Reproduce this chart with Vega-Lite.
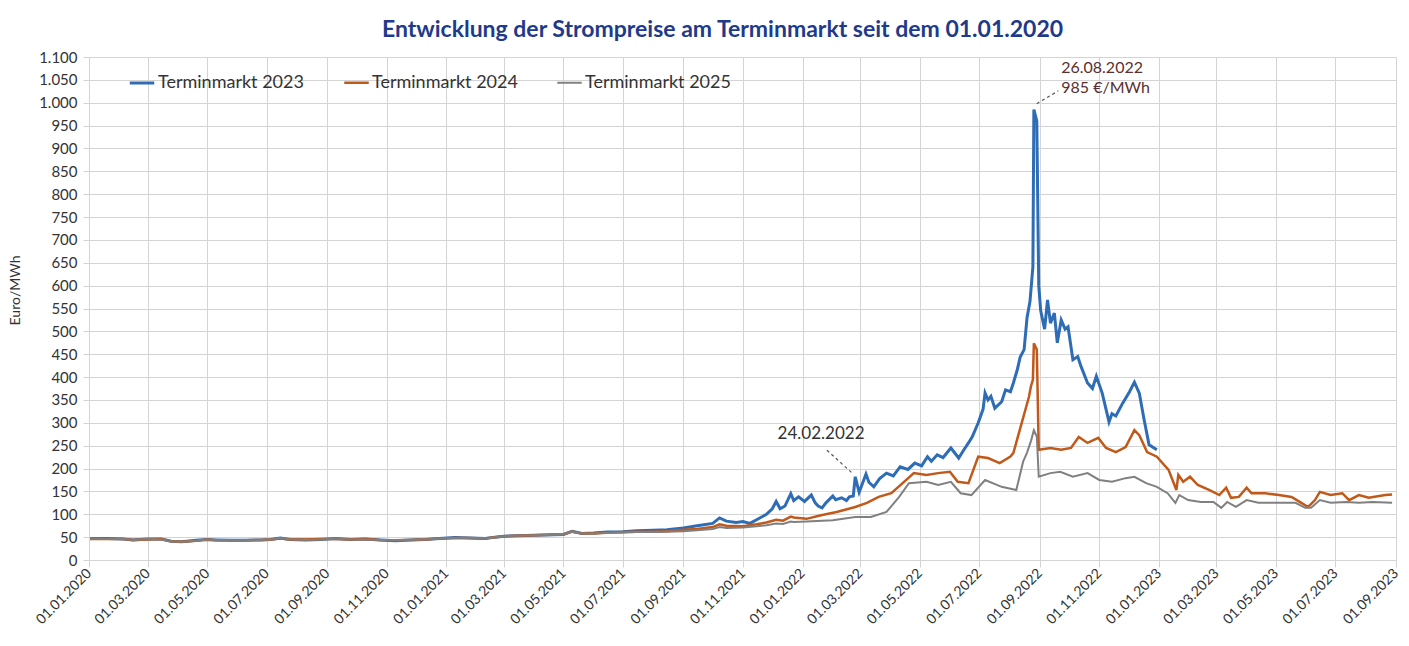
{
  "$schema": "https://vega.github.io/schema/vega-lite/v6.json",
  "width": 1307,
  "height": 503,
  "autosize": "none",
  "padding": {"left": 89, "top": 57, "right": 13, "bottom": 86},
  "background": "white",
  "title": {
    "text": "Entwicklung der Strompreise am Terminmarkt seit dem 01.01.2020",
    "font": "Lato",
    "fontSize": 23,
    "fontWeight": "bold",
    "color": "#1F3A8A",
    "anchor": "middle",
    "dx": -20,
    "offset": 8
  },
  "config": {
    "font": "Lato",
    "view": {"stroke": null},
    "axis": {
      "gridColor": "#d4d4d4",
      "gridWidth": 1,
      "tickColor": "#d4d4d4",
      "domain": false,
      "labelColor": "#333333",
      "titleColor": "#333333",
      "labelFont": "Lato",
      "titleFont": "Lato"
    }
  },
  "datasets": {
    "prices": [
      {"date":"2020-01-02","series":"Terminmarkt 2023","price":47},
      {"date":"2020-01-20","series":"Terminmarkt 2023","price":47},
      {"date":"2020-02-05","series":"Terminmarkt 2023","price":46},
      {"date":"2020-02-15","series":"Terminmarkt 2023","price":44},
      {"date":"2020-03-01","series":"Terminmarkt 2023","price":46},
      {"date":"2020-03-15","series":"Terminmarkt 2023","price":46},
      {"date":"2020-03-25","series":"Terminmarkt 2023","price":41},
      {"date":"2020-04-05","series":"Terminmarkt 2023","price":40},
      {"date":"2020-04-20","series":"Terminmarkt 2023","price":43},
      {"date":"2020-05-01","series":"Terminmarkt 2023","price":45},
      {"date":"2020-05-10","series":"Terminmarkt 2023","price":44},
      {"date":"2020-05-25","series":"Terminmarkt 2023","price":43},
      {"date":"2020-06-10","series":"Terminmarkt 2023","price":43},
      {"date":"2020-06-25","series":"Terminmarkt 2023","price":44},
      {"date":"2020-07-05","series":"Terminmarkt 2023","price":45},
      {"date":"2020-07-15","series":"Terminmarkt 2023","price":48},
      {"date":"2020-07-25","series":"Terminmarkt 2023","price":45},
      {"date":"2020-08-10","series":"Terminmarkt 2023","price":44},
      {"date":"2020-08-25","series":"Terminmarkt 2023","price":45},
      {"date":"2020-09-10","series":"Terminmarkt 2023","price":47},
      {"date":"2020-09-25","series":"Terminmarkt 2023","price":45},
      {"date":"2020-10-10","series":"Terminmarkt 2023","price":46},
      {"date":"2020-10-25","series":"Terminmarkt 2023","price":44},
      {"date":"2020-11-10","series":"Terminmarkt 2023","price":42},
      {"date":"2020-11-25","series":"Terminmarkt 2023","price":44},
      {"date":"2020-12-10","series":"Terminmarkt 2023","price":45},
      {"date":"2020-12-25","series":"Terminmarkt 2023","price":47},
      {"date":"2021-01-10","series":"Terminmarkt 2023","price":49},
      {"date":"2021-01-25","series":"Terminmarkt 2023","price":48},
      {"date":"2021-02-10","series":"Terminmarkt 2023","price":47},
      {"date":"2021-02-20","series":"Terminmarkt 2023","price":50},
      {"date":"2021-03-01","series":"Terminmarkt 2023","price":52},
      {"date":"2021-03-15","series":"Terminmarkt 2023","price":53},
      {"date":"2021-04-01","series":"Terminmarkt 2023","price":54},
      {"date":"2021-04-20","series":"Terminmarkt 2023","price":55},
      {"date":"2021-05-01","series":"Terminmarkt 2023","price":56},
      {"date":"2021-05-10","series":"Terminmarkt 2023","price":63},
      {"date":"2021-05-20","series":"Terminmarkt 2023","price":58},
      {"date":"2021-06-01","series":"Terminmarkt 2023","price":59},
      {"date":"2021-06-15","series":"Terminmarkt 2023","price":61},
      {"date":"2021-07-01","series":"Terminmarkt 2023","price":62},
      {"date":"2021-07-15","series":"Terminmarkt 2023","price":64},
      {"date":"2021-08-01","series":"Terminmarkt 2023","price":65},
      {"date":"2021-08-15","series":"Terminmarkt 2023","price":66},
      {"date":"2021-09-01","series":"Terminmarkt 2023","price":70},
      {"date":"2021-09-15","series":"Terminmarkt 2023","price":75},
      {"date":"2021-10-01","series":"Terminmarkt 2023","price":80},
      {"date":"2021-10-08","series":"Terminmarkt 2023","price":92},
      {"date":"2021-10-15","series":"Terminmarkt 2023","price":85},
      {"date":"2021-10-25","series":"Terminmarkt 2023","price":82},
      {"date":"2021-11-01","series":"Terminmarkt 2023","price":84},
      {"date":"2021-11-08","series":"Terminmarkt 2023","price":80},
      {"date":"2021-11-15","series":"Terminmarkt 2023","price":88},
      {"date":"2021-11-25","series":"Terminmarkt 2023","price":100},
      {"date":"2021-12-01","series":"Terminmarkt 2023","price":112},
      {"date":"2021-12-05","series":"Terminmarkt 2023","price":128},
      {"date":"2021-12-09","series":"Terminmarkt 2023","price":112},
      {"date":"2021-12-14","series":"Terminmarkt 2023","price":118},
      {"date":"2021-12-20","series":"Terminmarkt 2023","price":145},
      {"date":"2021-12-23","series":"Terminmarkt 2023","price":130},
      {"date":"2021-12-28","series":"Terminmarkt 2023","price":138},
      {"date":"2022-01-03","series":"Terminmarkt 2023","price":128},
      {"date":"2022-01-10","series":"Terminmarkt 2023","price":142},
      {"date":"2022-01-14","series":"Terminmarkt 2023","price":125},
      {"date":"2022-01-17","series":"Terminmarkt 2023","price":118},
      {"date":"2022-01-21","series":"Terminmarkt 2023","price":114},
      {"date":"2022-01-25","series":"Terminmarkt 2023","price":125},
      {"date":"2022-02-01","series":"Terminmarkt 2023","price":140},
      {"date":"2022-02-04","series":"Terminmarkt 2023","price":132},
      {"date":"2022-02-10","series":"Terminmarkt 2023","price":136},
      {"date":"2022-02-15","series":"Terminmarkt 2023","price":130},
      {"date":"2022-02-18","series":"Terminmarkt 2023","price":138},
      {"date":"2022-02-22","series":"Terminmarkt 2023","price":140},
      {"date":"2022-02-24","series":"Terminmarkt 2023","price":182},
      {"date":"2022-02-28","series":"Terminmarkt 2023","price":148},
      {"date":"2022-03-03","series":"Terminmarkt 2023","price":165},
      {"date":"2022-03-07","series":"Terminmarkt 2023","price":188},
      {"date":"2022-03-10","series":"Terminmarkt 2023","price":170},
      {"date":"2022-03-15","series":"Terminmarkt 2023","price":160},
      {"date":"2022-03-21","series":"Terminmarkt 2023","price":178},
      {"date":"2022-03-28","series":"Terminmarkt 2023","price":190},
      {"date":"2022-04-04","series":"Terminmarkt 2023","price":184},
      {"date":"2022-04-11","series":"Terminmarkt 2023","price":204},
      {"date":"2022-04-19","series":"Terminmarkt 2023","price":198},
      {"date":"2022-04-26","series":"Terminmarkt 2023","price":212},
      {"date":"2022-05-03","series":"Terminmarkt 2023","price":206},
      {"date":"2022-05-09","series":"Terminmarkt 2023","price":226},
      {"date":"2022-05-13","series":"Terminmarkt 2023","price":216},
      {"date":"2022-05-19","series":"Terminmarkt 2023","price":230},
      {"date":"2022-05-25","series":"Terminmarkt 2023","price":224},
      {"date":"2022-06-02","series":"Terminmarkt 2023","price":245},
      {"date":"2022-06-10","series":"Terminmarkt 2023","price":223},
      {"date":"2022-06-15","series":"Terminmarkt 2023","price":240},
      {"date":"2022-06-20","series":"Terminmarkt 2023","price":256},
      {"date":"2022-06-24","series":"Terminmarkt 2023","price":270},
      {"date":"2022-06-30","series":"Terminmarkt 2023","price":300},
      {"date":"2022-07-05","series":"Terminmarkt 2023","price":330},
      {"date":"2022-07-07","series":"Terminmarkt 2023","price":365},
      {"date":"2022-07-10","series":"Terminmarkt 2023","price":350},
      {"date":"2022-07-13","series":"Terminmarkt 2023","price":358},
      {"date":"2022-07-17","series":"Terminmarkt 2023","price":332},
      {"date":"2022-07-24","series":"Terminmarkt 2023","price":346},
      {"date":"2022-07-28","series":"Terminmarkt 2023","price":372},
      {"date":"2022-08-02","series":"Terminmarkt 2023","price":368},
      {"date":"2022-08-05","series":"Terminmarkt 2023","price":387},
      {"date":"2022-08-09","series":"Terminmarkt 2023","price":416},
      {"date":"2022-08-12","series":"Terminmarkt 2023","price":444},
      {"date":"2022-08-16","series":"Terminmarkt 2023","price":460},
      {"date":"2022-08-19","series":"Terminmarkt 2023","price":530},
      {"date":"2022-08-22","series":"Terminmarkt 2023","price":565},
      {"date":"2022-08-25","series":"Terminmarkt 2023","price":641},
      {"date":"2022-08-26","series":"Terminmarkt 2023","price":985},
      {"date":"2022-08-29","series":"Terminmarkt 2023","price":960},
      {"date":"2022-08-31","series":"Terminmarkt 2023","price":600},
      {"date":"2022-09-02","series":"Terminmarkt 2023","price":545},
      {"date":"2022-09-06","series":"Terminmarkt 2023","price":505},
      {"date":"2022-09-09","series":"Terminmarkt 2023","price":569},
      {"date":"2022-09-12","series":"Terminmarkt 2023","price":518},
      {"date":"2022-09-16","series":"Terminmarkt 2023","price":540},
      {"date":"2022-09-19","series":"Terminmarkt 2023","price":475},
      {"date":"2022-09-23","series":"Terminmarkt 2023","price":525},
      {"date":"2022-09-27","series":"Terminmarkt 2023","price":505},
      {"date":"2022-09-30","series":"Terminmarkt 2023","price":510},
      {"date":"2022-10-05","series":"Terminmarkt 2023","price":438},
      {"date":"2022-10-10","series":"Terminmarkt 2023","price":445},
      {"date":"2022-10-13","series":"Terminmarkt 2023","price":425},
      {"date":"2022-10-20","series":"Terminmarkt 2023","price":387},
      {"date":"2022-10-25","series":"Terminmarkt 2023","price":375},
      {"date":"2022-10-29","series":"Terminmarkt 2023","price":402},
      {"date":"2022-11-04","series":"Terminmarkt 2023","price":365},
      {"date":"2022-11-11","series":"Terminmarkt 2023","price":302},
      {"date":"2022-11-14","series":"Terminmarkt 2023","price":320},
      {"date":"2022-11-18","series":"Terminmarkt 2023","price":315},
      {"date":"2022-11-25","series":"Terminmarkt 2023","price":343},
      {"date":"2022-12-02","series":"Terminmarkt 2023","price":368},
      {"date":"2022-12-07","series":"Terminmarkt 2023","price":389},
      {"date":"2022-12-12","series":"Terminmarkt 2023","price":365},
      {"date":"2022-12-17","series":"Terminmarkt 2023","price":306},
      {"date":"2022-12-22","series":"Terminmarkt 2023","price":252},
      {"date":"2022-12-30","series":"Terminmarkt 2023","price":241},

      {"date":"2020-01-02","series":"Terminmarkt 2024","price":46},
      {"date":"2020-01-20","series":"Terminmarkt 2024","price":46},
      {"date":"2020-02-05","series":"Terminmarkt 2024","price":46},
      {"date":"2020-02-15","series":"Terminmarkt 2024","price":44},
      {"date":"2020-03-01","series":"Terminmarkt 2024","price":45},
      {"date":"2020-03-15","series":"Terminmarkt 2024","price":46},
      {"date":"2020-03-25","series":"Terminmarkt 2024","price":41},
      {"date":"2020-04-05","series":"Terminmarkt 2024","price":40},
      {"date":"2020-04-20","series":"Terminmarkt 2024","price":42},
      {"date":"2020-05-01","series":"Terminmarkt 2024","price":45},
      {"date":"2020-05-10","series":"Terminmarkt 2024","price":43},
      {"date":"2020-05-25","series":"Terminmarkt 2024","price":43},
      {"date":"2020-06-10","series":"Terminmarkt 2024","price":43},
      {"date":"2020-06-25","series":"Terminmarkt 2024","price":44},
      {"date":"2020-07-05","series":"Terminmarkt 2024","price":45},
      {"date":"2020-07-15","series":"Terminmarkt 2024","price":47},
      {"date":"2020-07-25","series":"Terminmarkt 2024","price":45},
      {"date":"2020-08-10","series":"Terminmarkt 2024","price":45},
      {"date":"2020-08-25","series":"Terminmarkt 2024","price":46},
      {"date":"2020-09-10","series":"Terminmarkt 2024","price":46},
      {"date":"2020-09-25","series":"Terminmarkt 2024","price":45},
      {"date":"2020-10-10","series":"Terminmarkt 2024","price":46},
      {"date":"2020-10-25","series":"Terminmarkt 2024","price":44},
      {"date":"2020-11-10","series":"Terminmarkt 2024","price":43},
      {"date":"2020-11-25","series":"Terminmarkt 2024","price":44},
      {"date":"2020-12-10","series":"Terminmarkt 2024","price":45},
      {"date":"2020-12-25","series":"Terminmarkt 2024","price":47},
      {"date":"2021-01-10","series":"Terminmarkt 2024","price":48},
      {"date":"2021-01-25","series":"Terminmarkt 2024","price":48},
      {"date":"2021-02-10","series":"Terminmarkt 2024","price":47},
      {"date":"2021-02-20","series":"Terminmarkt 2024","price":50},
      {"date":"2021-03-01","series":"Terminmarkt 2024","price":52},
      {"date":"2021-03-15","series":"Terminmarkt 2024","price":53},
      {"date":"2021-04-01","series":"Terminmarkt 2024","price":54},
      {"date":"2021-04-20","series":"Terminmarkt 2024","price":55},
      {"date":"2021-05-01","series":"Terminmarkt 2024","price":56},
      {"date":"2021-05-10","series":"Terminmarkt 2024","price":62},
      {"date":"2021-05-20","series":"Terminmarkt 2024","price":58},
      {"date":"2021-06-01","series":"Terminmarkt 2024","price":58},
      {"date":"2021-06-15","series":"Terminmarkt 2024","price":60},
      {"date":"2021-07-01","series":"Terminmarkt 2024","price":61},
      {"date":"2021-07-15","series":"Terminmarkt 2024","price":62},
      {"date":"2021-08-01","series":"Terminmarkt 2024","price":62},
      {"date":"2021-08-15","series":"Terminmarkt 2024","price":63},
      {"date":"2021-09-01","series":"Terminmarkt 2024","price":66},
      {"date":"2021-09-15","series":"Terminmarkt 2024","price":68},
      {"date":"2021-10-01","series":"Terminmarkt 2024","price":72},
      {"date":"2021-10-08","series":"Terminmarkt 2024","price":78},
      {"date":"2021-10-15","series":"Terminmarkt 2024","price":75},
      {"date":"2021-11-01","series":"Terminmarkt 2024","price":74},
      {"date":"2021-11-15","series":"Terminmarkt 2024","price":78},
      {"date":"2021-11-25","series":"Terminmarkt 2024","price":82},
      {"date":"2021-12-05","series":"Terminmarkt 2024","price":88},
      {"date":"2021-12-12","series":"Terminmarkt 2024","price":86},
      {"date":"2021-12-20","series":"Terminmarkt 2024","price":95},
      {"date":"2021-12-23","series":"Terminmarkt 2024","price":93},
      {"date":"2022-01-05","series":"Terminmarkt 2024","price":90},
      {"date":"2022-01-20","series":"Terminmarkt 2024","price":98},
      {"date":"2022-02-05","series":"Terminmarkt 2024","price":105},
      {"date":"2022-02-24","series":"Terminmarkt 2024","price":116},
      {"date":"2022-03-08","series":"Terminmarkt 2024","price":125},
      {"date":"2022-03-20","series":"Terminmarkt 2024","price":138},
      {"date":"2022-04-02","series":"Terminmarkt 2024","price":146},
      {"date":"2022-04-15","series":"Terminmarkt 2024","price":171},
      {"date":"2022-04-25","series":"Terminmarkt 2024","price":190},
      {"date":"2022-05-08","series":"Terminmarkt 2024","price":186},
      {"date":"2022-05-20","series":"Terminmarkt 2024","price":190},
      {"date":"2022-06-01","series":"Terminmarkt 2024","price":193},
      {"date":"2022-06-09","series":"Terminmarkt 2024","price":171},
      {"date":"2022-06-20","series":"Terminmarkt 2024","price":168},
      {"date":"2022-06-30","series":"Terminmarkt 2024","price":226},
      {"date":"2022-07-10","series":"Terminmarkt 2024","price":223},
      {"date":"2022-07-22","series":"Terminmarkt 2024","price":212},
      {"date":"2022-08-02","series":"Terminmarkt 2024","price":226},
      {"date":"2022-08-05","series":"Terminmarkt 2024","price":234},
      {"date":"2022-08-12","series":"Terminmarkt 2024","price":288},
      {"date":"2022-08-21","series":"Terminmarkt 2024","price":357},
      {"date":"2022-08-23","series":"Terminmarkt 2024","price":380},
      {"date":"2022-08-25","series":"Terminmarkt 2024","price":394},
      {"date":"2022-08-26","series":"Terminmarkt 2024","price":474},
      {"date":"2022-08-29","series":"Terminmarkt 2024","price":460},
      {"date":"2022-08-31","series":"Terminmarkt 2024","price":241},
      {"date":"2022-09-12","series":"Terminmarkt 2024","price":245},
      {"date":"2022-09-23","series":"Terminmarkt 2024","price":241},
      {"date":"2022-10-03","series":"Terminmarkt 2024","price":245},
      {"date":"2022-10-11","series":"Terminmarkt 2024","price":269},
      {"date":"2022-10-20","series":"Terminmarkt 2024","price":256},
      {"date":"2022-10-31","series":"Terminmarkt 2024","price":267},
      {"date":"2022-11-08","series":"Terminmarkt 2024","price":245},
      {"date":"2022-11-18","series":"Terminmarkt 2024","price":236},
      {"date":"2022-11-28","series":"Terminmarkt 2024","price":247},
      {"date":"2022-12-07","series":"Terminmarkt 2024","price":284},
      {"date":"2022-12-12","series":"Terminmarkt 2024","price":273},
      {"date":"2022-12-20","series":"Terminmarkt 2024","price":236},
      {"date":"2022-12-30","series":"Terminmarkt 2024","price":226},
      {"date":"2023-01-11","series":"Terminmarkt 2024","price":197},
      {"date":"2023-01-19","series":"Terminmarkt 2024","price":153},
      {"date":"2023-01-21","series":"Terminmarkt 2024","price":186},
      {"date":"2023-01-26","series":"Terminmarkt 2024","price":171},
      {"date":"2023-02-02","series":"Terminmarkt 2024","price":182},
      {"date":"2023-02-10","series":"Terminmarkt 2024","price":164},
      {"date":"2023-02-22","series":"Terminmarkt 2024","price":153},
      {"date":"2023-03-04","series":"Terminmarkt 2024","price":142},
      {"date":"2023-03-11","series":"Terminmarkt 2024","price":158},
      {"date":"2023-03-16","series":"Terminmarkt 2024","price":136},
      {"date":"2023-03-24","series":"Terminmarkt 2024","price":138},
      {"date":"2023-04-01","series":"Terminmarkt 2024","price":158},
      {"date":"2023-04-06","series":"Terminmarkt 2024","price":146},
      {"date":"2023-04-20","series":"Terminmarkt 2024","price":146},
      {"date":"2023-05-04","series":"Terminmarkt 2024","price":142},
      {"date":"2023-05-17","series":"Terminmarkt 2024","price":138},
      {"date":"2023-05-27","series":"Terminmarkt 2024","price":125},
      {"date":"2023-06-03","series":"Terminmarkt 2024","price":116},
      {"date":"2023-06-10","series":"Terminmarkt 2024","price":131},
      {"date":"2023-06-15","series":"Terminmarkt 2024","price":149},
      {"date":"2023-06-26","series":"Terminmarkt 2024","price":142},
      {"date":"2023-07-08","series":"Terminmarkt 2024","price":146},
      {"date":"2023-07-15","series":"Terminmarkt 2024","price":131},
      {"date":"2023-07-25","series":"Terminmarkt 2024","price":142},
      {"date":"2023-08-04","series":"Terminmarkt 2024","price":136},
      {"date":"2023-08-21","series":"Terminmarkt 2024","price":142},
      {"date":"2023-08-28","series":"Terminmarkt 2024","price":143},

      {"date":"2020-01-02","series":"Terminmarkt 2025","price":47},
      {"date":"2020-01-20","series":"Terminmarkt 2025","price":46},
      {"date":"2020-02-05","series":"Terminmarkt 2025","price":46},
      {"date":"2020-02-15","series":"Terminmarkt 2025","price":44},
      {"date":"2020-03-01","series":"Terminmarkt 2025","price":46},
      {"date":"2020-03-15","series":"Terminmarkt 2025","price":45},
      {"date":"2020-03-25","series":"Terminmarkt 2025","price":41},
      {"date":"2020-04-05","series":"Terminmarkt 2025","price":40},
      {"date":"2020-04-20","series":"Terminmarkt 2025","price":42},
      {"date":"2020-05-01","series":"Terminmarkt 2025","price":45},
      {"date":"2020-05-10","series":"Terminmarkt 2025","price":44},
      {"date":"2020-05-25","series":"Terminmarkt 2025","price":43},
      {"date":"2020-06-10","series":"Terminmarkt 2025","price":43},
      {"date":"2020-06-25","series":"Terminmarkt 2025","price":44},
      {"date":"2020-07-05","series":"Terminmarkt 2025","price":45},
      {"date":"2020-07-15","series":"Terminmarkt 2025","price":48},
      {"date":"2020-07-25","series":"Terminmarkt 2025","price":45},
      {"date":"2020-08-10","series":"Terminmarkt 2025","price":44},
      {"date":"2020-08-25","series":"Terminmarkt 2025","price":45},
      {"date":"2020-09-10","series":"Terminmarkt 2025","price":47},
      {"date":"2020-09-25","series":"Terminmarkt 2025","price":45},
      {"date":"2020-10-10","series":"Terminmarkt 2025","price":45},
      {"date":"2020-10-25","series":"Terminmarkt 2025","price":44},
      {"date":"2020-11-10","series":"Terminmarkt 2025","price":43},
      {"date":"2020-11-25","series":"Terminmarkt 2025","price":44},
      {"date":"2020-12-10","series":"Terminmarkt 2025","price":45},
      {"date":"2020-12-25","series":"Terminmarkt 2025","price":47},
      {"date":"2021-01-10","series":"Terminmarkt 2025","price":48},
      {"date":"2021-01-25","series":"Terminmarkt 2025","price":48},
      {"date":"2021-02-10","series":"Terminmarkt 2025","price":47},
      {"date":"2021-02-20","series":"Terminmarkt 2025","price":50},
      {"date":"2021-03-01","series":"Terminmarkt 2025","price":52},
      {"date":"2021-03-15","series":"Terminmarkt 2025","price":53},
      {"date":"2021-04-01","series":"Terminmarkt 2025","price":54},
      {"date":"2021-04-20","series":"Terminmarkt 2025","price":55},
      {"date":"2021-05-01","series":"Terminmarkt 2025","price":56},
      {"date":"2021-05-10","series":"Terminmarkt 2025","price":62},
      {"date":"2021-05-20","series":"Terminmarkt 2025","price":58},
      {"date":"2021-06-01","series":"Terminmarkt 2025","price":58},
      {"date":"2021-06-15","series":"Terminmarkt 2025","price":59},
      {"date":"2021-07-01","series":"Terminmarkt 2025","price":60},
      {"date":"2021-07-15","series":"Terminmarkt 2025","price":61},
      {"date":"2021-08-01","series":"Terminmarkt 2025","price":61},
      {"date":"2021-08-15","series":"Terminmarkt 2025","price":62},
      {"date":"2021-09-01","series":"Terminmarkt 2025","price":63},
      {"date":"2021-09-15","series":"Terminmarkt 2025","price":65},
      {"date":"2021-10-01","series":"Terminmarkt 2025","price":68},
      {"date":"2021-10-08","series":"Terminmarkt 2025","price":72},
      {"date":"2021-10-15","series":"Terminmarkt 2025","price":70},
      {"date":"2021-11-01","series":"Terminmarkt 2025","price":71},
      {"date":"2021-11-15","series":"Terminmarkt 2025","price":74},
      {"date":"2021-11-25","series":"Terminmarkt 2025","price":76},
      {"date":"2021-12-05","series":"Terminmarkt 2025","price":80},
      {"date":"2021-12-12","series":"Terminmarkt 2025","price":79},
      {"date":"2021-12-20","series":"Terminmarkt 2025","price":84},
      {"date":"2021-12-23","series":"Terminmarkt 2025","price":83},
      {"date":"2022-01-05","series":"Terminmarkt 2025","price":84},
      {"date":"2022-02-01","series":"Terminmarkt 2025","price":87},
      {"date":"2022-02-24","series":"Terminmarkt 2025","price":94},
      {"date":"2022-03-12","series":"Terminmarkt 2025","price":94},
      {"date":"2022-03-28","series":"Terminmarkt 2025","price":105},
      {"date":"2022-04-10","series":"Terminmarkt 2025","price":138},
      {"date":"2022-04-20","series":"Terminmarkt 2025","price":168},
      {"date":"2022-05-08","series":"Terminmarkt 2025","price":171},
      {"date":"2022-05-20","series":"Terminmarkt 2025","price":164},
      {"date":"2022-06-02","series":"Terminmarkt 2025","price":171},
      {"date":"2022-06-12","series":"Terminmarkt 2025","price":146},
      {"date":"2022-06-23","series":"Terminmarkt 2025","price":142},
      {"date":"2022-07-07","series":"Terminmarkt 2025","price":175},
      {"date":"2022-07-24","series":"Terminmarkt 2025","price":160},
      {"date":"2022-08-08","series":"Terminmarkt 2025","price":153},
      {"date":"2022-08-15","series":"Terminmarkt 2025","price":215},
      {"date":"2022-08-19","series":"Terminmarkt 2025","price":235},
      {"date":"2022-08-23","series":"Terminmarkt 2025","price":260},
      {"date":"2022-08-26","series":"Terminmarkt 2025","price":284},
      {"date":"2022-08-29","series":"Terminmarkt 2025","price":270},
      {"date":"2022-08-31","series":"Terminmarkt 2025","price":182},
      {"date":"2022-09-12","series":"Terminmarkt 2025","price":190},
      {"date":"2022-09-22","series":"Terminmarkt 2025","price":193},
      {"date":"2022-10-05","series":"Terminmarkt 2025","price":182},
      {"date":"2022-10-20","series":"Terminmarkt 2025","price":190},
      {"date":"2022-11-01","series":"Terminmarkt 2025","price":175},
      {"date":"2022-11-14","series":"Terminmarkt 2025","price":171},
      {"date":"2022-11-28","series":"Terminmarkt 2025","price":179},
      {"date":"2022-12-07","series":"Terminmarkt 2025","price":182},
      {"date":"2022-12-19","series":"Terminmarkt 2025","price":168},
      {"date":"2022-12-30","series":"Terminmarkt 2025","price":160},
      {"date":"2023-01-10","series":"Terminmarkt 2025","price":146},
      {"date":"2023-01-18","series":"Terminmarkt 2025","price":125},
      {"date":"2023-01-22","series":"Terminmarkt 2025","price":142},
      {"date":"2023-01-31","series":"Terminmarkt 2025","price":131},
      {"date":"2023-02-13","series":"Terminmarkt 2025","price":127},
      {"date":"2023-02-26","series":"Terminmarkt 2025","price":127},
      {"date":"2023-03-06","series":"Terminmarkt 2025","price":114},
      {"date":"2023-03-12","series":"Terminmarkt 2025","price":127},
      {"date":"2023-03-21","series":"Terminmarkt 2025","price":116},
      {"date":"2023-04-01","series":"Terminmarkt 2025","price":131},
      {"date":"2023-04-13","series":"Terminmarkt 2025","price":125},
      {"date":"2023-05-04","series":"Terminmarkt 2025","price":125},
      {"date":"2023-05-21","series":"Terminmarkt 2025","price":125},
      {"date":"2023-05-31","series":"Terminmarkt 2025","price":114},
      {"date":"2023-06-06","series":"Terminmarkt 2025","price":114},
      {"date":"2023-06-15","series":"Terminmarkt 2025","price":131},
      {"date":"2023-06-26","series":"Terminmarkt 2025","price":125},
      {"date":"2023-07-12","series":"Terminmarkt 2025","price":127},
      {"date":"2023-07-25","series":"Terminmarkt 2025","price":125},
      {"date":"2023-08-08","series":"Terminmarkt 2025","price":127},
      {"date":"2023-08-28","series":"Terminmarkt 2025","price":125}
    ],
    "peakNote": [
      {"date":"2022-09-23","price":1076,"label":"26.08.2022"},
      {"date":"2022-09-23","price":1032,"label":"985 €/MWh"}
    ],
    "warNote": [
      {"date":"2022-01-20","price":276,"label":"24.02.2022"}
    ],
    "leaders": [
      {"date":"2022-08-29","price":998,"date2":"2022-09-20","price2":1026},
      {"date":"2022-01-26","price":240,"date2":"2022-02-22","price2":188}
    ]
  },
  "encoding": {
    "x": {
      "field": "date",
      "type": "temporal",
      "scale": {
        "type": "utc",
        "domain": [
          {"year": 2020, "month": 1, "date": 1, "utc": true},
          {"year": 2023, "month": 9, "date": 1, "utc": true}
        ]
      },
      "axis": {
        "title": null,
        "values": [
          {"year":2020,"month":1,"date":1,"utc":true},
          {"year":2020,"month":3,"date":1,"utc":true},
          {"year":2020,"month":5,"date":1,"utc":true},
          {"year":2020,"month":7,"date":1,"utc":true},
          {"year":2020,"month":9,"date":1,"utc":true},
          {"year":2020,"month":11,"date":1,"utc":true},
          {"year":2021,"month":1,"date":1,"utc":true},
          {"year":2021,"month":3,"date":1,"utc":true},
          {"year":2021,"month":5,"date":1,"utc":true},
          {"year":2021,"month":7,"date":1,"utc":true},
          {"year":2021,"month":9,"date":1,"utc":true},
          {"year":2021,"month":11,"date":1,"utc":true},
          {"year":2022,"month":1,"date":1,"utc":true},
          {"year":2022,"month":3,"date":1,"utc":true},
          {"year":2022,"month":5,"date":1,"utc":true},
          {"year":2022,"month":7,"date":1,"utc":true},
          {"year":2022,"month":9,"date":1,"utc":true},
          {"year":2022,"month":11,"date":1,"utc":true},
          {"year":2023,"month":1,"date":1,"utc":true},
          {"year":2023,"month":3,"date":1,"utc":true},
          {"year":2023,"month":5,"date":1,"utc":true},
          {"year":2023,"month":7,"date":1,"utc":true},
          {"year":2023,"month":9,"date":1,"utc":true}
        ],
        "format": "%d.%m.%Y",
        "labelAngle": -45,
        "labelAlign": "right",
        "labelBaseline": "middle",
        "labelFontSize": 14,
        "labelPadding": 4,
        "tickSize": 7,
        "labelOverlap": false,
        "labelBound": false,
        "labelFlush": false
      }
    },
    "y": {
      "field": "price",
      "type": "quantitative",
      "scale": {"domain": [0, 1100], "nice": false},
      "axis": {
        "title": "Euro/MWh",
        "titleFontSize": 14,
        "titleFontWeight": "normal",
        "titleAngle": -90,
        "titleX": -74,
        "titleY": 233,
        "titleAlign": "center",
        "titleBaseline": "middle",
        "values": [0,50,100,150,200,250,300,350,400,450,500,550,600,650,700,750,800,850,900,950,1000,1050,1100],
        "labelExpr": "replace(format(datum.value, ',d'), ',', '.')",
        "labelFontSize": 15,
        "labelPadding": 6,
        "tickSize": 6,
        "labelOverlap": false
      }
    }
  },
  "layer": [
    {
      "data": {"name": "prices"},
      "mark": {"type": "line", "interpolate": "linear"},
      "encoding": {
        "color": {
          "field": "series",
          "type": "nominal",
          "scale": {
            "domain": ["Terminmarkt 2023", "Terminmarkt 2024", "Terminmarkt 2025"],
            "range": ["#2E6DB5", "#C0591A", "#808080"]
          },
          "legend": {
            "title": null,
            "orient": "none",
            "legendX": 39,
            "legendY": 12,
            "direction": "horizontal",
            "symbolType": "stroke",
            "symbolSize": 600,
            "symbolStrokeWidth": 3,
            "labelFontSize": 18,
            "labelColor": "#333333",
            "labelOffset": 2,
            "columnPadding": 35,
            "labelLimit": 300
          }
        },
        "strokeWidth": {
          "field": "series",
          "type": "nominal",
          "scale": {
            "domain": ["Terminmarkt 2023", "Terminmarkt 2024", "Terminmarkt 2025"],
            "range": [3, 2, 2]
          },
          "legend": null
        }
      }
    },
    {
      "data": {"name": "leaders"},
      "mark": {"type": "rule", "strokeDash": [3, 3], "color": "#555555", "strokeWidth": 1.2},
      "encoding": {
        "x2": {"field": "date2"},
        "y2": {"field": "price2"}
      }
    },
    {
      "data": {"name": "peakNote"},
      "mark": {"type": "text", "align": "left", "baseline": "middle", "fontSize": 16, "color": "#5A3030"},
      "encoding": {
        "text": {"field": "label"}
      }
    },
    {
      "data": {"name": "warNote"},
      "mark": {"type": "text", "align": "center", "baseline": "middle", "fontSize": 17, "color": "#333333"},
      "encoding": {
        "text": {"field": "label"}
      }
    }
  ]
}
